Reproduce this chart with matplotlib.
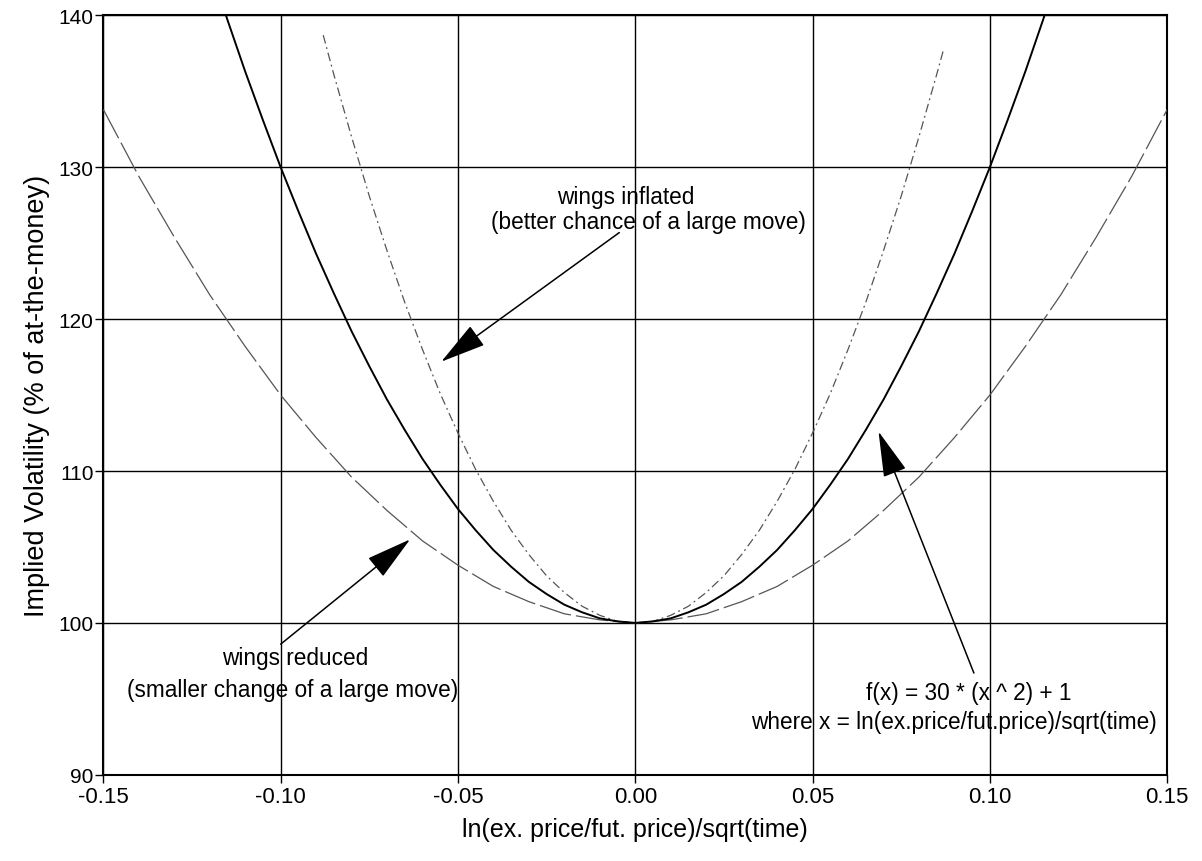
"""
Implied volatility skew — three wing shapes against a reference parabola.
"""

import matplotlib
matplotlib.use("Agg")
import matplotlib.pyplot as plt

plt.rcParams["font.family"] = ["Liberation Sans", "DejaVu Sans"]

# ── data ──
# solid reference curve f(x) = 30*x^2 + 1 (in % of ATM)
x_base = [-0.120, -0.115, -0.110, -0.105, -0.100, -0.095, -0.090, -0.085, -0.080,
          -0.075, -0.070, -0.065, -0.060, -0.055, -0.050, -0.045, -0.040, -0.035,
          -0.030, -0.025, -0.020, -0.015, -0.010, -0.005, 0.000,
          0.005, 0.010, 0.015, 0.020, 0.025, 0.030, 0.035, 0.040, 0.045, 0.050,
          0.055, 0.060, 0.065, 0.070, 0.075, 0.080, 0.085, 0.090, 0.095, 0.100,
          0.105, 0.110, 0.115, 0.120]
y_base = [143.2, 139.7, 136.3, 133.1, 130.0, 127.1, 124.3, 121.7, 119.2,
          116.9, 114.7, 112.7, 110.8, 109.1, 107.5, 106.1, 104.8, 103.7,
          102.7, 101.9, 101.2, 100.7, 100.3, 100.1, 100.0,
          100.1, 100.3, 100.7, 101.2, 101.9, 102.7, 103.7, 104.8, 106.1, 107.5,
          109.1, 110.8, 112.7, 114.7, 116.9, 119.2, 121.7, 124.3, 127.1, 130.0,
          133.1, 136.3, 139.7, 143.2]

# wings inflated (dash-dot)
x_infl = [-0.088, -0.085, -0.080, -0.075, -0.070, -0.065, -0.060, -0.055, -0.050,
          -0.045, -0.040, -0.035, -0.030, -0.025, -0.020, -0.015, -0.010, -0.005,
          0.000, 0.005, 0.010, 0.015, 0.020, 0.025, 0.030, 0.035, 0.040, 0.045,
          0.050, 0.055, 0.060, 0.065, 0.070, 0.075, 0.080, 0.085, 0.087]
y_infl = [138.7, 136.1, 132.0, 128.1, 124.5, 121.1, 118.0, 115.1, 112.5,
          110.1, 108.0, 106.1, 104.5, 103.1, 102.0, 101.1, 100.5, 100.1,
          100.0, 100.1, 100.5, 101.1, 102.0, 103.1, 104.5, 106.1, 108.0, 110.1,
          112.5, 115.1, 118.0, 121.1, 124.5, 128.1, 132.0, 136.1, 137.8]

# wings reduced (long dashes)
x_red = [-0.15, -0.14, -0.13, -0.12, -0.11, -0.10, -0.09, -0.08, -0.07, -0.06,
         -0.05, -0.04, -0.03, -0.02, -0.01, 0.00, 0.01, 0.02, 0.03, 0.04, 0.05,
         0.06, 0.07, 0.08, 0.09, 0.10, 0.11, 0.12, 0.13, 0.14, 0.15]
y_red = [133.8, 129.4, 125.4, 121.6, 118.2, 115.0, 112.2, 109.6, 107.4, 105.4,
         103.8, 102.4, 101.4, 100.6, 100.2, 100.0, 100.2, 100.6, 101.4, 102.4, 103.8,
         105.4, 107.4, 109.6, 112.2, 115.0, 118.2, 121.6, 125.4, 129.4, 133.8]

x_ticks = [-0.15, -0.10, -0.05, 0.00, 0.05, 0.10, 0.15]
x_ticklabels = ["-0.15", "-0.10", "-0.05", "0.00", "0.05", "0.10", "0.15"]
y_ticks = [90, 100, 110, 120, 130, 140]

FS = 16.3

fig = plt.figure(figsize=(12.02, 8.62), dpi=100)
ax = fig.add_axes([0.086, 0.100, 0.885, 0.881])

ax.plot(x_red, y_red, color="#555555", linewidth=0.9,
        linestyle=(0, (26, 4)), zorder=3)
ax.plot(x_infl, y_infl, color="#555555", linewidth=0.9,
        linestyle=(0, (7, 3, 1.5, 3)), zorder=3)
ax.plot(x_base, y_base, color="black", linewidth=1.4, zorder=4)

ax.set_xlim(-0.15, 0.15)
ax.set_ylim(90, 140)
ax.set_xticks(x_ticks)
ax.set_xticklabels(x_ticklabels)
ax.set_yticks(y_ticks)
ax.tick_params(direction="out", length=6, width=1, pad=1, colors="black")
ax.tick_params(axis="x", labelsize=16, pad=2)
ax.tick_params(axis="y", labelsize=15)
ax.grid(True, color="black", linewidth=1.0)
for s in ax.spines.values():
    s.set_linewidth(1.5)

ax.set_xlabel("ln(ex. price/fut. price)/sqrt(time)", fontsize=18, labelpad=7)
ax.set_ylabel("Implied Volatility (% of at-the-money)", fontsize=19.5, labelpad=6)

# ── annotations ──
arrow = dict(arrowstyle="-|>,head_length=1.45,head_width=0.38", color="black",
             linewidth=1.1, mutation_scale=20, shrinkA=0, shrinkB=0)

ax.text(-0.0026, 128.1, "wings inflated", fontsize=FS, ha="center", va="center")
ax.text(0.0037, 126.45, "(better chance of a large move)", fontsize=FS, ha="center", va="center")
ax.annotate("", xy=(-0.0547, 117.2), xytext=(-0.0045, 125.7), arrowprops=arrow, zorder=5)

ax.text(-0.096, 97.7, "wings reduced", fontsize=FS, ha="center", va="center")
ax.text(-0.0966, 95.6, "(smaller change of a large move)", fontsize=FS, ha="center", va="center")
ax.annotate("", xy=(-0.0635, 105.5), xytext=(-0.100, 98.6), arrowprops=arrow, zorder=5)

ax.text(0.094, 95.45, "f(x) = 30 * (x ^ 2) + 1", fontsize=FS, ha="center", va="center")
ax.text(0.090, 93.5, "where x = ln(ex.price/fut.price)/sqrt(time)", fontsize=FS,
        ha="center", va="center")
ax.annotate("", xy=(0.0686, 112.6), xytext=(0.0955, 96.7), arrowprops=arrow, zorder=5)

fig.savefig("out.png", dpi=100)
